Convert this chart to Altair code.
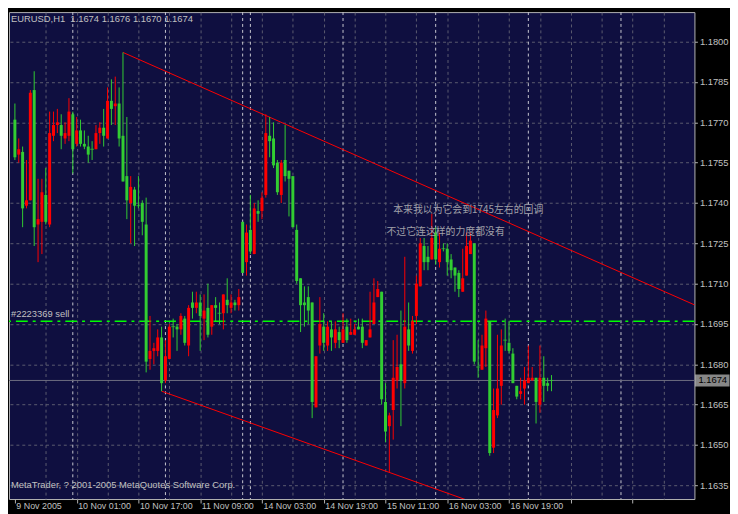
import json
import altair as alt
import pandas as pd

# ---------------- data ----------------
opens = [1.1771,1.1758,1.1759,1.1739,1.1741,1.1782,1.1732,1.1733,1.1743,1.1732,
 1.1765,1.1769,1.1769,1.1764,1.1765,1.1773,1.1762,1.1767,1.1762,1.1761,
 1.1760,1.1760,1.1766,1.1768,1.1764,1.1778,1.1776,1.1777,1.1765,1.1750,
 1.1740,1.1745,1.1739,1.1740,1.1732,1.1682,1.1685,1.1685,1.1690,1.1674,
 1.1682,1.1694,1.1694,1.1693,1.1697,1.1687,1.1703,1.1701,1.1703,1.1697,
 1.1701,1.1694,1.1702,1.1699,1.1699,1.1704,1.1701,1.1703,1.1702,1.1733,
 1.1718,1.1730,1.1721,1.1737,1.1737,1.1743,1.1765,1.1764,1.1755,1.1743,
 1.1756,1.1752,1.1750,1.1730,1.1712,1.1703,1.1705,1.1703,1.1664,1.1687,
 1.1694,1.1687,1.1693,1.1688,1.1692,1.1688,1.1694,1.1691,1.1691,1.1694,
 1.1694,1.1687,1.1690,1.1695,1.1705,1.1707,1.1666,1.1657,1.1663,1.1674,
 1.1680,1.1673,1.1693,1.1685,1.1698,1.1709,1.1724,1.1720,1.1719,1.1729,
 1.1718,1.1723,1.1723,1.1719,1.1716,1.1714,1.1707,1.1713,1.1721,1.1725,
 1.1679,1.1678,1.1686,1.1696,1.1649,1.1661,1.1672,1.1689,1.1688,1.1684,
 1.1672,1.1669,1.1671,1.1673,1.1674,1.1675,1.1665,1.1675,1.1673,1.1674]
highs = [1.1777,1.1764,1.1761,1.1756,1.1782,1.1789,1.1749,1.1749,1.1753,1.1774,
 1.1774,1.1775,1.1773,1.1770,1.1779,1.1774,1.1772,1.1771,1.1767,1.1765,
 1.1763,1.1769,1.1770,1.1775,1.1783,1.1786,1.1787,1.1783,1.1796,1.1772,
 1.1750,1.1746,1.1750,1.1741,1.1742,1.1698,1.1688,1.1693,1.1694,1.1689,
 1.1695,1.1697,1.1695,1.1699,1.1698,1.1702,1.1707,1.1707,1.1706,1.1706,
 1.1710,1.1702,1.1705,1.1703,1.1706,1.1712,1.1706,1.1704,1.1708,1.1733,
 1.1732,1.1743,1.1740,1.1741,1.1744,1.1773,1.1772,1.1770,1.1756,1.1756,
 1.1769,1.1752,1.1750,1.1732,1.1712,1.1709,1.1709,1.1703,1.1683,1.1705,
 1.1699,1.1696,1.1696,1.1696,1.1694,1.1699,1.1697,1.1697,1.1695,1.1697,
 1.1697,1.1689,1.1707,1.1712,1.1711,1.1707,1.1673,1.1662,1.1689,1.1691,
 1.1700,1.1720,1.1703,1.1698,1.1713,1.1727,1.1727,1.1724,1.1736,1.1731,
 1.1729,1.1725,1.1725,1.1721,1.1716,1.1715,1.1723,1.1729,1.1729,1.1725,
 1.1689,1.1691,1.1700,1.1696,1.1671,1.1691,1.1693,1.1697,1.1696,1.1686,
 1.1672,1.1675,1.1679,1.1687,1.1679,1.1675,1.1687,1.1683,1.1675,1.1676]
lows = [1.1756,1.1755,1.1731,1.1738,1.1741,1.1724,1.1718,1.1721,1.1732,1.1731,
 1.1763,1.1766,1.1760,1.1762,1.1763,1.1751,1.1761,1.1761,1.1760,1.1755,
 1.1756,1.1760,1.1762,1.1761,1.1764,1.1769,1.1769,1.1761,1.1748,1.1734,
 1.1725,1.1724,1.1738,1.1728,1.1677,1.1678,1.1680,1.1683,1.1670,1.1673,
 1.1682,1.1690,1.1685,1.1691,1.1687,1.1683,1.1697,1.1699,1.1685,1.1689,
 1.1690,1.1691,1.1696,1.1695,1.1693,1.1699,1.1699,1.1700,1.1700,1.1714,
 1.1713,1.1721,1.1721,1.1733,1.1734,1.1742,1.1757,1.1753,1.1743,1.1740,
 1.1748,1.1735,1.1731,1.1710,1.1692,1.1694,1.1695,1.1660,1.1664,1.1684,
 1.1685,1.1685,1.1685,1.1686,1.1686,1.1688,1.1688,1.1691,1.1691,1.1693,
 1.1686,1.1687,1.1690,1.1695,1.1705,1.1665,1.1651,1.1640,1.1652,1.1671,
 1.1657,1.1671,1.1685,1.1684,1.1695,1.1709,1.1715,1.1715,1.1719,1.1717,
 1.1716,1.1722,1.1713,1.1712,1.1707,1.1705,1.1707,1.1713,1.1721,1.1680,
 1.1675,1.1678,1.1679,1.1646,1.1647,1.1660,1.1665,1.1685,1.1684,1.1673,
 1.1667,1.1667,1.1665,1.1673,1.1674,1.1658,1.1662,1.1666,1.1670,1.1670]
closes = [1.1757,1.1760,1.1738,1.1741,1.1781,1.1731,1.1734,1.1744,1.1733,1.1766,
 1.1769,1.1770,1.1765,1.1766,1.1774,1.1760,1.1767,1.1762,1.1761,1.1758,
 1.1760,1.1766,1.1768,1.1765,1.1778,1.1775,1.1777,1.1764,1.1748,1.1741,
 1.1746,1.1739,1.1739,1.1733,1.1681,1.1685,1.1686,1.1690,1.1673,1.1683,
 1.1694,1.1694,1.1693,1.1698,1.1688,1.1701,1.1701,1.1703,1.1698,1.1700,
 1.1691,1.1702,1.1701,1.1699,1.1706,1.1702,1.1703,1.1702,1.1705,1.1714,
 1.1729,1.1722,1.1738,1.1736,1.1742,1.1766,1.1763,1.1754,1.1744,1.1755,
 1.1750,1.1749,1.1731,1.1711,1.1702,1.1702,1.1700,1.1666,1.1683,1.1695,
 1.1688,1.1694,1.1690,1.1693,1.1689,1.1693,1.1689,1.1692,1.1693,1.1693,
 1.1688,1.1689,1.1693,1.1703,1.1708,1.1667,1.1655,1.1661,1.1675,1.1679,
 1.1674,1.1694,1.1687,1.1696,1.1710,1.1725,1.1718,1.1718,1.1727,1.1719,
 1.1723,1.1723,1.1718,1.1715,1.1713,1.1708,1.1712,1.1724,1.1726,1.1681,
 1.1679,1.1687,1.1697,1.1647,1.1663,1.1671,1.1687,1.1689,1.1685,1.1673,
 1.1668,1.1670,1.1674,1.1675,1.1675,1.1666,1.1675,1.1672,1.1672,1.1674]

tick_bars = [0, 16, 32, 48, 64, 80, 96, 112, 128]
tick_labels = ["9 Nov 2005", "10 Nov 01:00", "10 Nov 17:00", "11 Nov 09:00",
               "14 Nov 03:00", "14 Nov 19:00", "15 Nov 11:00", "16 Nov 03:00",
               "16 Nov 19:00"]
price_ticks = [1.1635, 1.1650, 1.1665, 1.1680, 1.1695, 1.1710, 1.1725,
               1.1740, 1.1755, 1.1770, 1.1785, 1.1800]
separator_bars = [15, 39, 59, 61, 85, 109, 133, 157]   # day starts

upper_bars = [28, 180]
upper_prices = [1.1796, 1.16996]
lower_bars = [38, 130]
lower_prices = [1.1670, 1.16229]

order_price = [1.1696]
order_label = ["#2223369 sell"]
bid_price = [1.1674]
bid_label = ["1.1674"]

note_texts = ["本来我以为它会到1745左右的回调", "不过它连这样的力度都没有"]
note_bars = [98.0, 96.25]
note_prices = [1.17372, 1.17291]

header_text = ["EURUSD,H1 \u00a01.1674 1.1676 1.1670 1.1674"]
footer_text = ["MetaTrader, ? 2001-2005 MetaQuotes Software Corp."]

# ---------------- styling ----------------
W, H = 694, 493
BG = "#000000"
PLOT_BG = "#0F0F40"
GRID = "#5C5C70"
SEP = "#C8C8D0"
BORDER = "#B4B4B4"
GREEN = "#32CD32"
RED = "#FF0000"
TEXT = "#C0C0C0"
NOTE = "#A0A0A8"
BID = "#6E6E80"
ORDER = "#00FF00"
FONT = "Liberation Sans"
CJK = "Noto Sans CJK SC"

candles = pd.DataFrame({
    "bar": list(range(len(opens))),
    "open": opens, "high": highs, "low": lows, "close": closes,
})
candles["dir"] = ["up" if c > o else "down" for o, c in zip(opens, closes)]

x_scale = alt.Scale(domain=[-0.25, 174.75], nice=False, zero=False)
y_scale = alt.Scale(domain=[1.16299, 1.18110], nice=False, zero=False)

label_expr = ("indexof({bars}, datum.value) >= 0 ? {labels}[indexof({bars}, datum.value)] : ''"
              .format(bars=json.dumps(tick_bars), labels=json.dumps(tick_labels)))

x_axis = alt.Axis(
    values=list(range(0, 169, 8)), title=None, domain=False,
    grid=True, gridColor=GRID, gridDash=[3, 3], gridWidth=1,
    gridOpacity={"condition": {"test": "datum.value === 0", "value": 0}, "value": 1},
    ticks=True, tickColor=BORDER, tickSize=4,
    tickOpacity={"condition": {"test": "datum.value % 16 === 0", "value": 1}, "value": 0},
    labelExpr=label_expr, labelAlign="left", labelBaseline="top", labelPadding=-1,
    labelOffset=1, labelColor=TEXT, labelFont=FONT, labelFontSize=9,
    labelOverlap=False, labelFlush=False,
)
y_axis = alt.Axis(
    orient="right", values=price_ticks, format=".4f", title=None, domain=False,
    grid=True, gridColor=GRID, gridDash=[3, 3], gridWidth=1,
    ticks=True, tickColor=BORDER, tickSize=3,
    labelColor=TEXT, labelFont=FONT, labelFontSize=9.5, labelPadding=2,
    labelOverlap=False, labelFlush=False,
)

def X(field):
    return alt.X(field, type="quantitative", scale=x_scale, axis=x_axis)

def Y(field):
    return alt.Y(field, type="quantitative", scale=y_scale, axis=y_axis)

color = alt.Color("dir:N", scale=alt.Scale(domain=["up", "down"], range=[RED, GREEN]), legend=None)

seps = alt.Chart(pd.DataFrame({"bar": separator_bars})).mark_rule(
    color=SEP, strokeWidth=1, strokeDash=[3, 3]
).encode(x=X("bar"))

lines_df = pd.DataFrame({
    "bar": upper_bars + lower_bars,
    "price": upper_prices + lower_prices,
    "line": ["upper", "upper", "lower", "lower"],
})
trend = alt.Chart(lines_df).mark_line(color=RED, strokeWidth=1, clip=True).encode(
    x=X("bar"), y=Y("price"), detail="line:N"
)

bid = alt.Chart(pd.DataFrame({"price": bid_price})).mark_rule(color=BID, strokeWidth=1).encode(
    y=Y("price")
)
order = alt.Chart(pd.DataFrame({"price": order_price})).mark_rule(
    color=ORDER, strokeWidth=1.5, strokeDash=[12, 5, 3, 5]
).encode(y=Y("price"))
order_txt = alt.Chart(pd.DataFrame({"price": order_price, "t": order_label})).mark_text(
    align="left", baseline="bottom", dy=-2, font=FONT, fontSize=9.5, color=TEXT
).encode(x=alt.value(2), y=Y("price"), text="t:N")

wicks = alt.Chart(candles).mark_rule(strokeWidth=1).encode(
    x=X("bar"), y=Y("high"), y2="low", color=color
)
bodies = alt.Chart(candles).mark_bar(size=3).encode(
    x=X("bar"), y=Y("open"), y2="close", color=color
)
dojis = alt.Chart(candles).transform_filter("datum.open === datum.close").mark_tick(
    orient="horizontal", size=4, thickness=1
).encode(x=X("bar"), y=Y("open"), color=color)

notes = alt.Chart(pd.DataFrame({"bar": note_bars, "price": note_prices, "t": note_texts})).mark_text(
    align="left", baseline="middle", font=CJK, fontSize=10, color=NOTE
).encode(x=X("bar"), y=Y("price"), text="t:N")

header = alt.Chart(pd.DataFrame({"t": header_text})).mark_text(
    align="left", baseline="middle", font=FONT, fontSize=9.5, color=TEXT
).encode(x=alt.value(2), y=alt.value(7), text="t:N")
footer = alt.Chart(pd.DataFrame({"t": footer_text})).mark_text(
    align="left", baseline="middle", font=FONT, fontSize=9.5, color=TEXT
).encode(x=alt.value(2), y=alt.value(H - 14), text="t:N")

bid_box = alt.Chart(pd.DataFrame({"price": bid_price})).mark_tick(
    orient="horizontal", size=35, thickness=12, color="#C0C0C0", clip=False
).encode(x=alt.value(W + 18), y=Y("price"))
bid_txt = alt.Chart(pd.DataFrame({"price": bid_price, "t": bid_label})).mark_text(
    align="left", baseline="middle", font=FONT, fontSize=9.5, color="#000000"
).encode(x=alt.value(W + 4), y=Y("price"), text="t:N")

chart = alt.layer(
    seps, trend, bid, order, wicks, bodies, dojis, order_txt, notes, header, footer,
    bid_box, bid_txt
).properties(
    width=W, height=H, background=BG,
    padding={"left": 0, "top": 0, "right": 0, "bottom": 0},
).configure_view(
    fill=PLOT_BG, stroke=BORDER, strokeWidth=1
)

chart.save("out.html", embed_options={"renderer": "svg", "actions": False})
